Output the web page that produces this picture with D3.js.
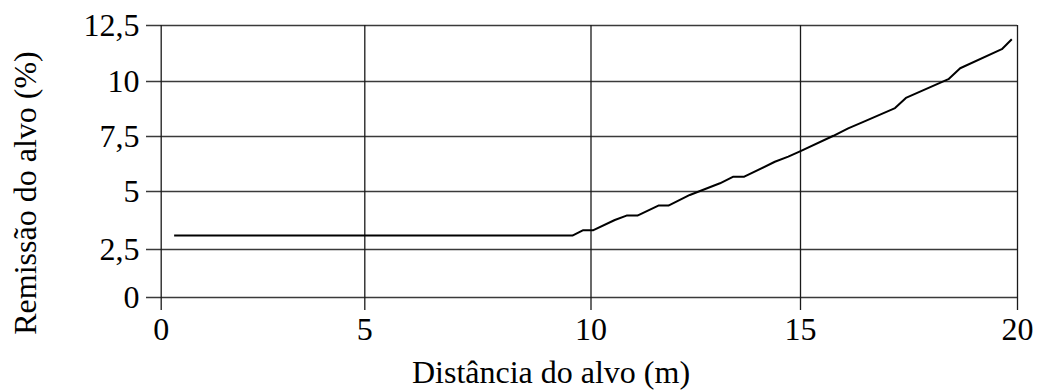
<!DOCTYPE html>
<html>
<head>
<meta charset="utf-8">
<script src="https://cdn.jsdelivr.net/npm/d3@7"></script>
<style>
  html, body { margin: 0; padding: 0; background: #fff; }
  svg { display: block; }
</style>
</head>
<body>
<div id="chart"></div>
<script>
// Distance to target (m) and target remission (%)
const distance = [0.33, 9.60, 9.84, 10.07, 10.58, 10.86, 11.12, 11.62, 11.86, 12.37,
                  13.09, 13.41, 13.67, 14.40, 14.72, 15.00, 15.77, 16.11, 16.46, 17.19,
                  17.44, 18.42, 18.69, 19.65, 19.88];
const remission = [3.08, 3.08, 3.31, 3.31, 3.75, 3.94, 3.94, 4.37, 4.37, 4.83,
                   5.35, 5.65, 5.65, 6.33, 6.56, 6.80, 7.51, 7.85, 8.14, 8.77,
                   9.23, 10.08, 10.57, 11.42, 11.86];

const xTicks = [0, 5, 10, 15, 20];
const yTicks = [0, 2.5, 5, 7.5, 10, 12.5];
const xTitle = "Distância do alvo (m)";
const yTitle = "Remissão do alvo (%)";

const W = 1040, H = 390;
const FONT = "Liberation Serif";
const fontSize = 32;

// Gridline anchors of the plotting frame (slightly uneven spacing)
const xAnchors = [160.7, 364.3, 590.5, 800, 1017];
const yAnchors = [297, 249, 191, 136, 81, 25];

const x = d3.scaleLinear().domain(xTicks).range(xAnchors);
const y = d3.scaleLinear().domain(yTicks).range(yAnchors);

const plotRight = x(20), plotTop = y(12.5);
const tickLeft = 146, tickBottom = 310;

const fmt = d => String(d).replace(".", ",");

const svg = d3.select("#chart").append("svg")
  .attr("width", W).attr("height", H);

svg.append("rect").attr("width", W).attr("height", H).attr("fill", "#fff");

// Horizontal gridlines, extending left of the axis as ticks
const yAxis = d3.axisLeft(y)
  .tickValues(yTicks)
  .tickFormat(fmt)
  .tickSizeInner(-(plotRight - tickLeft))
  .tickSizeOuter(0)
  .tickPadding(6.5);

const gy = svg.append("g")
  .attr("transform", `translate(${tickLeft},0)`)
  .call(yAxis);
gy.select(".domain").remove();
gy.selectAll("line").attr("stroke", "#3a3a3a").attr("stroke-width", 1.3);
gy.selectAll("text")
  .style("font-family", FONT)
  .style("font-size", fontSize + "px")
  .attr("fill", "#000");

// Vertical gridlines, extending below the bottom line as ticks
const xAxis = d3.axisBottom(x)
  .tickValues(xTicks)
  .tickFormat(fmt)
  .tickSizeInner(-(tickBottom - plotTop))
  .tickSizeOuter(0)
  .tickPadding(7);

const gx = svg.append("g")
  .attr("transform", `translate(0,${tickBottom})`)
  .call(xAxis);
gx.select(".domain").remove();
gx.selectAll("line").attr("stroke", "#1a1a1a").attr("stroke-width", 1.3);
gx.selectAll("text")
  .style("font-family", FONT)
  .style("font-size", fontSize + "px")
  .attr("fill", "#000");

// Remission curve
const line = d3.line()
  .x((d, i) => x(distance[i]))
  .y(d => y(d));

svg.append("path")
  .datum(remission)
  .attr("fill", "none")
  .attr("stroke", "#000")
  .attr("stroke-width", 2)
  .attr("stroke-linejoin", "round")
  .attr("d", line);

// Axis titles
svg.append("text")
  .attr("x", 551)
  .attr("y", 383)
  .attr("text-anchor", "middle")
  .style("font-family", FONT)
  .style("font-size", fontSize + "px")
  .text(xTitle);

svg.append("text")
  .attr("transform", "translate(35.5,193) rotate(-90)")
  .attr("text-anchor", "middle")
  .style("font-family", FONT)
  .style("font-size", fontSize + "px")
  .text(yTitle);
</script>
</body>
</html>
